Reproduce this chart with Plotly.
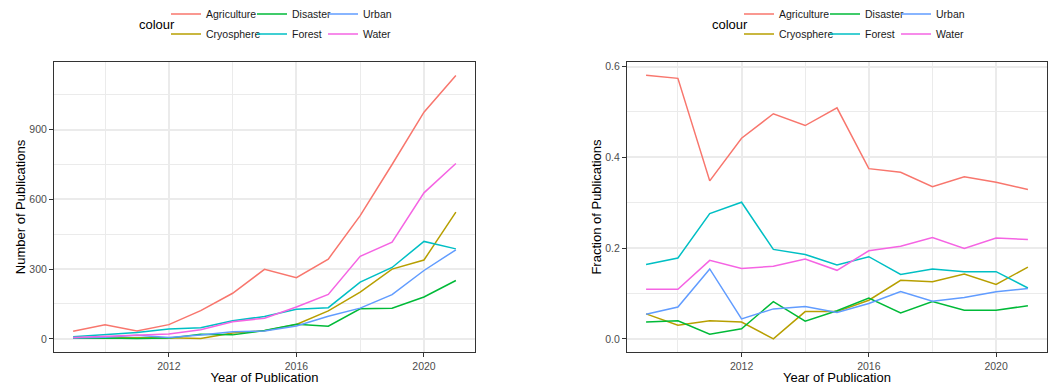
import plotly.graph_objects as go

W, H = 1057, 385

years = [2009, 2010, 2011, 2012, 2013, 2014, 2015, 2016, 2017, 2018, 2019, 2020, 2021]
categories = ["Agriculture", "Cryosphere", "Disaster", "Forest", "Urban", "Water"]
colors = ["#F8766D", "#B79F00", "#00BA38", "#00BFC4", "#619CFF", "#F564E3"]

# Number of publications per year
count_agriculture = [33, 60, 34, 61, 121, 196, 299, 263, 343, 530, 750, 975, 1133]
count_cryosphere = [3, 3, 4, 5, 1, 25, 35, 62, 120, 201, 300, 339, 545]
count_disaster = [2, 4, 1, 3, 20, 17, 36, 63, 54, 129, 132, 180, 251]
count_forest = [9, 19, 27, 42, 48, 78, 96, 127, 134, 244, 307, 419, 387]
count_urban = [3, 7, 15, 6, 16, 30, 34, 55, 97, 132, 190, 294, 383]
count_water = [6, 11, 17, 21, 39, 73, 89, 137, 191, 355, 416, 628, 754]

# Fraction of publications per year
frac_agriculture = [0.581, 0.574, 0.348, 0.442, 0.496, 0.470, 0.509, 0.375, 0.367, 0.335, 0.357, 0.345, 0.329]
frac_cryosphere = [0.055, 0.030, 0.040, 0.037, 0.000, 0.060, 0.060, 0.085, 0.129, 0.126, 0.143, 0.120, 0.158]
frac_disaster = [0.037, 0.040, 0.010, 0.022, 0.082, 0.039, 0.062, 0.090, 0.057, 0.082, 0.063, 0.063, 0.073]
frac_forest = [0.164, 0.178, 0.276, 0.301, 0.197, 0.186, 0.163, 0.181, 0.142, 0.154, 0.148, 0.148, 0.112]
frac_urban = [0.054, 0.070, 0.154, 0.044, 0.066, 0.071, 0.058, 0.078, 0.104, 0.083, 0.091, 0.104, 0.111]
frac_water = [0.109, 0.109, 0.173, 0.155, 0.160, 0.176, 0.151, 0.194, 0.204, 0.223, 0.199, 0.222, 0.219]

x_ticks = [2012, 2016, 2020]
count_ticks = [0, 300, 600, 900]
frac_ticks = [0.0, 0.2, 0.4, 0.6]
frac_tick_labels = ["0.0", "0.2", "0.4", "0.6"]

counts = [count_agriculture, count_cryosphere, count_disaster, count_forest, count_urban, count_water]
fracs = [frac_agriculture, frac_cryosphere, frac_disaster, frac_forest, frac_urban, frac_water]

FONT = "Liberation Sans, Arial, Helvetica, sans-serif"

# legend layout (ggplot-like 3 columns x 2 rows, column-major)
col_text_x_left = [206, 292, 363]
row_y = [14, 34]
panel_shift = 573

fig = go.Figure()

legend_layouts = {}
lg_idx = 0
for panel, data in enumerate([counts, fracs]):
    xa = "x" if panel == 0 else "x2"
    ya = "y" if panel == 0 else "y2"
    for i, (name, vals) in enumerate(zip(categories, data)):
        lg_idx += 1
        lname = "legend" if lg_idx == 1 else f"legend{lg_idx}"
        col = i // 2
        row = i % 2
        tx = col_text_x_left[col] + panel * panel_shift
        ty = row_y[row]
        legend_layouts[lname] = dict(
            x=(tx - 40) / W, y=1 - ty / H, xref="container", yref="container",
            xanchor="left", yanchor="middle", orientation="h",
            bgcolor="rgba(0,0,0,0)", borderwidth=0,
            font=dict(family=FONT, size=10.5, color="#1A1A1A"),
            itemwidth=30,
        )
        fig.add_trace(go.Scatter(
            x=years, y=vals, mode="lines", name=name,
            line=dict(color=colors[i], width=1.5),
            xaxis=xa, yaxis=ya, legend=lname, showlegend=True,
        ))

axis_common = dict(
    showline=True, mirror=True, linecolor="#333333", linewidth=1,
    ticks="outside", ticklen=4, tickcolor="#333333", tickwidth=1,
    tickfont=dict(family=FONT, size=10.5, color="#4D4D4D"),
    showgrid=True, gridcolor="#EBEBEB", gridwidth=1.6,
    zeroline=False, automargin=False,
    title_font=dict(family=FONT, size=13, color="#000000"),
)

y_dom = [1 - 352 / H, 1 - 62 / H]

fig.update_layout(
    width=W, height=H,
    margin=dict(l=0, r=0, t=0, b=0, autoexpand=False),
    paper_bgcolor="white", plot_bgcolor="white",
    font=dict(family=FONT),
    xaxis=dict(axis_common, domain=[54 / W, 475 / W], range=[2008.4, 2021.6],
               tickvals=x_ticks, anchor="y",
               minor=dict(dtick=2, tick0=2010, showgrid=True, gridcolor="#EBEBEB", gridwidth=0.8, ticks=""),
               title=dict(text="Year of Publication", standoff=2)),
    yaxis=dict(axis_common, domain=y_dom, range=[-56.7, 1191], tickvals=count_ticks, anchor="x",
               minor=dict(dtick=150, tick0=150, showgrid=True, gridcolor="#EBEBEB", gridwidth=0.8, ticks=""),
               title=dict(text="Number of Publications", standoff=0)),
    xaxis2=dict(axis_common, domain=[627 / W, 1047 / W], range=[2008.4, 2021.6],
                tickvals=x_ticks, anchor="y2",
                minor=dict(dtick=2, tick0=2010, showgrid=True, gridcolor="#EBEBEB", gridwidth=0.8, ticks=""),
                title=dict(text="Year of Publication", standoff=2)),
    yaxis2=dict(axis_common, domain=y_dom, range=[-0.029, 0.61], tickvals=frac_ticks,
                ticktext=frac_tick_labels, anchor="x2",
                minor=dict(dtick=0.1, tick0=0.1, showgrid=True, gridcolor="#EBEBEB", gridwidth=0.8, ticks=""),
                title=dict(text="Fraction of Publications", standoff=0)),
    **legend_layouts,
)

for px_x in [137, 137 + panel_shift]:
    fig.add_annotation(
        text="colour", x=px_x / W, y=1 - 24 / H, xref="paper", yref="paper",
        xanchor="left", yanchor="middle", showarrow=False,
        font=dict(family=FONT, size=13, color="#000000"),
    )

fig.write_html("out.html")
